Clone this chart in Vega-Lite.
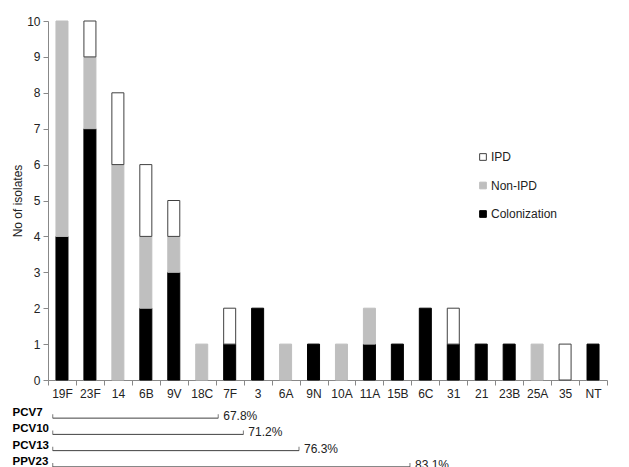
{
  "$schema": "https://vega.github.io/schema/vega-lite/v6.json",
  "padding": {"left": 11, "top": 15, "right": 5, "bottom": 0},
  "background": "white",
  "config": {
    "font": "Liberation Sans",
    "view": {"stroke": null},
    "axis": {"labelFont": "Liberation Sans", "titleFont": "Liberation Sans"}
  },
  "spacing": 7,
  "datasets": {
    "isolates": [
      {"serotype": "19F", "type": "Colonization", "count": 4},
      {"serotype": "19F", "type": "Non-IPD", "count": 6},
      {"serotype": "23F", "type": "Colonization", "count": 7},
      {"serotype": "23F", "type": "Non-IPD", "count": 2},
      {"serotype": "23F", "type": "IPD", "count": 1},
      {"serotype": "14", "type": "Non-IPD", "count": 6},
      {"serotype": "14", "type": "IPD", "count": 2},
      {"serotype": "6B", "type": "Colonization", "count": 2},
      {"serotype": "6B", "type": "Non-IPD", "count": 2},
      {"serotype": "6B", "type": "IPD", "count": 2},
      {"serotype": "9V", "type": "Colonization", "count": 3},
      {"serotype": "9V", "type": "Non-IPD", "count": 1},
      {"serotype": "9V", "type": "IPD", "count": 1},
      {"serotype": "18C", "type": "Non-IPD", "count": 1},
      {"serotype": "7F", "type": "Colonization", "count": 1},
      {"serotype": "7F", "type": "IPD", "count": 1},
      {"serotype": "3", "type": "Colonization", "count": 2},
      {"serotype": "6A", "type": "Non-IPD", "count": 1},
      {"serotype": "9N", "type": "Colonization", "count": 1},
      {"serotype": "10A", "type": "Non-IPD", "count": 1},
      {"serotype": "11A", "type": "Colonization", "count": 1},
      {"serotype": "11A", "type": "Non-IPD", "count": 1},
      {"serotype": "15B", "type": "Colonization", "count": 1},
      {"serotype": "6C", "type": "Colonization", "count": 2},
      {"serotype": "31", "type": "Colonization", "count": 1},
      {"serotype": "31", "type": "IPD", "count": 1},
      {"serotype": "21", "type": "Colonization", "count": 1},
      {"serotype": "23B", "type": "Colonization", "count": 1},
      {"serotype": "25A", "type": "Non-IPD", "count": 1},
      {"serotype": "35", "type": "IPD", "count": 1},
      {"serotype": "NT", "type": "Colonization", "count": 1}
    ],
    "vaccines": [
      {"vaccine": "PCV7", "start": 0.17, "end": 6.09, "coverage": "67.8%"},
      {"vaccine": "PCV10", "start": 0.17, "end": 6.99, "coverage": "71.2%"},
      {"vaccine": "PCV13", "start": 0.17, "end": 8.98, "coverage": "76.3%"},
      {"vaccine": "PPV23", "start": 0.17, "end": 12.95, "coverage": "83.1%"}
    ]
  },
  "vconcat": [
    {
      "width": 559,
      "height": 359,
      "data": {"name": "isolates"},
      "transform": [
        {"calculate": "indexof(['Colonization', 'Non-IPD', 'IPD'], datum.type)", "as": "stackOrder"}
      ],
      "mark": {"type": "bar", "width": {"band": 0.43}, "strokeWidth": 1},
      "encoding": {
        "x": {
          "field": "serotype", "type": "nominal", "sort": null,
          "scale": {"paddingInner": 0, "paddingOuter": 0},
          "axis": {"title": null, "labelAngle": 0, "tickBand": "extent", "labelFontSize": 12, "labelColor": "#222222", "domainColor": "#888888", "tickColor": "#888888", "tickSize": 5, "labelPadding": 3}
        },
        "y": {
          "field": "count", "type": "quantitative",
          "scale": {"domain": [0, 10]},
          "axis": {"title": "No of isolates", "values": [0,1,2,3,4,5,6,7,8,9,10], "grid": false, "labelFontSize": 12, "labelColor": "#222222", "titleFontSize": 12, "titleFontWeight": "normal", "titleColor": "#222222", "titlePadding": 2, "domainColor": "#888888", "tickColor": "#888888", "tickSize": 5, "labelPadding": 3}
        },
        "order": {"field": "stackOrder", "type": "quantitative", "sort": "ascending"},
        "color": {
          "field": "type", "type": "nominal",
          "scale": {"domain": ["IPD", "Non-IPD", "Colonization"], "range": ["#ffffff", "#bfbfbf", "#000000"]},
          "legend": {"title": null, "orient": "none", "legendX": 429, "legendY": 130, "symbolType": "square", "symbolSize": 45, "symbolStrokeWidth": 1, "labelFontSize": 12, "labelColor": "#222222", "rowPadding": 16.5, "labelOffset": 2, "padding": 0}
        },
        "stroke": {
          "field": "type", "type": "nominal",
          "scale": {"domain": ["IPD", "Non-IPD", "Colonization"], "range": ["#404040", "#bfbfbf", "#000000"]},
          "legend": {"title": null, "orient": "none", "legendX": 429, "legendY": 130, "symbolType": "square", "symbolSize": 45, "symbolStrokeWidth": 1, "labelFontSize": 12, "labelColor": "#222222", "rowPadding": 16.5, "labelOffset": 2, "padding": 0}
        }
      }
    },
    {
      "width": 559,
      "height": 65,
      "data": {"name": "vaccines"},
      "layer": [
        {
          "mark": {"type": "rule", "color": "#404040", "strokeWidth": 1},
          "encoding": {
            "x": {"field": "start", "type": "quantitative", "scale": {"domain": [0, 20], "nice": false, "zero": false}, "axis": null},
            "x2": {"field": "end"},
            "y": {"field": "vaccine", "type": "nominal", "sort": null,
              "axis": {"title": null, "domain": false, "ticks": false, "labelAlign": "left", "labelPadding": 36, "labelFontWeight": "bold", "labelFontSize": 11.5, "labelOffset": -5, "labelColor": "#000000"}}
          }
        },
        {
          "mark": {"type": "tick", "color": "#404040", "size": 4, "thickness": 1, "yOffset": -2},
          "encoding": {
            "x": {"field": "start", "type": "quantitative"},
            "y": {"field": "vaccine", "type": "nominal", "sort": null}
          }
        },
        {
          "mark": {"type": "tick", "color": "#404040", "size": 4, "thickness": 1, "yOffset": -2},
          "encoding": {
            "x": {"field": "end", "type": "quantitative"},
            "y": {"field": "vaccine", "type": "nominal", "sort": null}
          }
        },
        {
          "mark": {"type": "text", "align": "left", "dx": 5, "dy": -2, "fontSize": 12, "color": "#222222"},
          "encoding": {
            "x": {"field": "end", "type": "quantitative"},
            "y": {"field": "vaccine", "type": "nominal", "sort": null},
            "text": {"field": "coverage"}
          }
        }
      ]
    }
  ]
}
